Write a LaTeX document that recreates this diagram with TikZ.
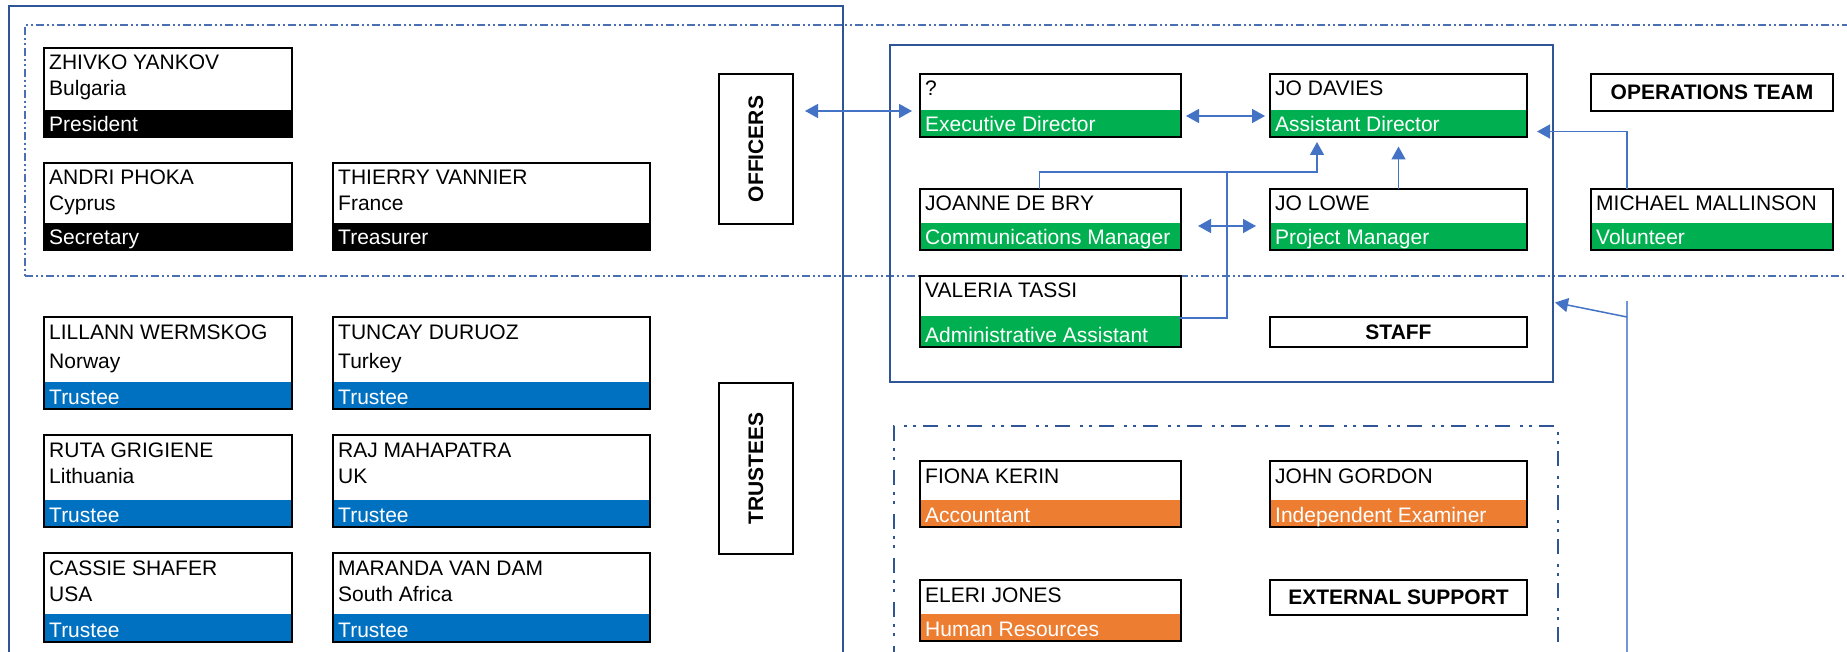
\documentclass[tikz,border=0pt]{standalone}
\usepackage{fontspec}
\setmainfont{Liberation Sans}
\usetikzlibrary{arrows.meta,calc}
\definecolor{bgreen}{HTML}{00B050}
\definecolor{bblue}{HTML}{0070C0}
\definecolor{borange}{HTML}{ED7D31}
\definecolor{frameblue}{HTML}{2F5597}
\definecolor{dashblue}{HTML}{4A6FB3}
\definecolor{linkblue}{HTML}{4472C4}
\definecolor{lightlink}{HTML}{6F96D8}
\tikzset{
  boxshape/.style={rectangle, inner sep=0pt, outer sep=0pt, anchor=north west},
  boxline/.style={draw=black, line width=2pt},
  nametext/.style={anchor=base west, inner sep=0pt, font=\fontsize{21}{25}\selectfont, text=black},
  roletext/.style={anchor=base west, inner sep=0pt, font=\fontsize{21}{25}\selectfont, text=white},
  labeltext/.style={inner sep=0pt, font=\fontsize{21}{25}\selectfont\bfseries},
  labelbox/.style={boxshape, draw=black, line width=2pt, fill=white},
  link/.style={draw=linkblue, line width=1.5pt},
  arr/.style={link, arrows={-Triangle[length=13pt,width=14pt]}},
  darr/.style={link, arrows={Triangle[length=13pt,width=14pt]-Triangle[length=13pt,width=14pt]}},
}
\newcommand\pbox[9]{%
  \node[boxshape, fill=white, minimum width=#4pt, minimum height=#5pt] (#1) at (#2,#3) {};
  \fill[#7] ([yshift=#6pt]#1.south west) rectangle (#1.south east);
  \draw[boxline] (#1.north west) rectangle (#1.south east);
  \node[nametext] (#1-name) at ([xshift=5pt,yshift=-22pt]#1.north west) {#8};
  \node[roletext] (#1-role) at ([xshift=5pt,yshift=5pt]#1.south west) {#9};
}
\begin{document}
\begin{tikzpicture}[x=1pt,y=-1pt]
\path[use as bounding box, clip] (0,0) rectangle (1847,652);
\fill[white] (0,0) rectangle (1847,652);
% frames
\node[boxshape, draw=frameblue, line width=2.5pt, minimum width=834pt, minimum height=680pt] (board) at (9,6) {};
\node[boxshape, draw=dashblue, line width=1.2pt, dash pattern=on 8pt off 3pt on 2pt off 3pt on 2pt off 3pt, minimum width=1900pt, minimum height=251pt] (offband) at (25,25) {};
\node[boxshape, draw=frameblue, line width=2.5pt, minimum width=663pt, minimum height=337pt] (staffframe) at (890,45) {};
\node[boxshape, draw=frameblue, line width=2.2pt, dash pattern=on 15pt off 7pt on 3pt off 6pt on 3pt off 10pt, minimum width=664pt, minimum height=300pt] (extframe) at (894,426) {};
% officers
\pbox{zy}{44}{48}{248}{89}{27}{black}{ZHIVKO YANKOV}{President}
\node[nametext] (zy-c) at ([yshift=-26pt]zy-name.base west) {Bulgaria};
\pbox{ap}{44}{163}{248}{87}{27}{black}{ANDRI PHOKA}{Secretary}
\node[nametext] (ap-c) at ([yshift=-26pt]ap-name.base west) {Cyprus};
\pbox{tv}{333}{163}{317}{87}{27}{black}{THIERRY VANNIER}{Treasurer}
\node[nametext] (tv-c) at ([yshift=-26pt]tv-name.base west) {France};
% trustees
\pbox{lw}{44}{317}{248}{92}{27}{bblue}{LILLANN WERMSKOG}{Trustee}
\node[nametext] (lw-c) at ([yshift=-29pt]lw-name.base west) {Norway};
\pbox{td}{333}{317}{317}{92}{27}{bblue}{TUNCAY DURUOZ}{Trustee}
\node[nametext] (td-c) at ([yshift=-29pt]td-name.base west) {Turkey};
\pbox{rg}{44}{435}{248}{92}{27}{bblue}{RUTA GRIGIENE}{Trustee}
\node[nametext] (rg-c) at ([yshift=-26pt]rg-name.base west) {Lithuania};
\pbox{rm}{333}{435}{317}{92}{27}{bblue}{RAJ MAHAPATRA}{Trustee}
\node[nametext] (rm-c) at ([yshift=-26pt]rm-name.base west) {UK};
\pbox{cs}{44}{553}{248}{89}{28}{bblue}{CASSIE SHAFER}{Trustee}
\node[nametext] (cs-c) at ([yshift=-26pt]cs-name.base west) {USA};
\pbox{mv}{333}{553}{317}{89}{28}{bblue}{MARANDA VAN DAM}{Trustee}
\node[nametext] (mv-c) at ([yshift=-26pt]mv-name.base west) {South Africa};
% label boxes
\node[labelbox, minimum width=74pt, minimum height=150pt] (officers) at (719,74) {};
\node[labeltext, rotate=90] (officers-t) at (officers.center) {OFFICERS};
\node[labelbox, minimum width=74pt, minimum height=171pt] (trustees) at (719,383) {};
\node[labeltext, rotate=90] (trustees-t) at (trustees.center) {TRUSTEES};
\node[labelbox, minimum width=242pt, minimum height=37pt] (opsteam) at (1591,74) {};
\node[labeltext] (opsteam-t) at (opsteam.center) {OPERATIONS TEAM};
\node[labelbox, minimum width=257pt, minimum height=30pt] (staff) at (1270,317) {};
\node[labeltext] (staff-t) at (staff.center) {STAFF};
\node[labelbox, minimum width=257pt, minimum height=35pt] (extsup) at (1270,580) {};
\node[labeltext] (extsup-t) at (extsup.center) {EXTERNAL SUPPORT};
% staff
\pbox{ed}{920}{74}{261}{63}{27}{bgreen}{?}{Executive Director}
\pbox{jd}{1270}{74}{257}{63}{27}{bgreen}{JO DAVIES}{Assistant Director}
\pbox{jb}{920}{189}{261}{61}{27}{bgreen}{JOANNE DE BRY}{Communications Manager}
\pbox{jl}{1270}{189}{257}{61}{27}{bgreen}{JO LOWE}{Project Manager}
\pbox{mm}{1591}{189}{242}{61}{27}{bgreen}{MICHAEL MALLINSON}{Volunteer}
\pbox{vt}{920}{276}{261}{71}{31}{bgreen}{VALERIA TASSI}{Administrative Assistant}
% external
\pbox{fk}{920}{461}{261}{66}{27}{borange}{FIONA KERIN}{Accountant}
\pbox{jg}{1270}{461}{257}{66}{27}{borange}{JOHN GORDON}{Independent Examiner}
\pbox{ej}{920}{580}{261}{61}{27}{borange}{ELERI JONES}{Human Resources}
% connectors
\coordinate (yA) at (0,111);
\coordinate (yB) at (0,116);
\coordinate (yC) at (0,226);
\coordinate (hj) at (1227,172);
\coordinate (vtop) at (1627,301);
\coordinate (vbot) at (1627,660);
\coordinate (vsrc) at (1627,317);
\draw[darr, shorten <=12pt, shorten >=8pt] (officers.east |- yA) -- (ed.west |- yA);
\draw[darr, shorten <=5pt, shorten >=5pt] (ed.east |- yB) -- (jd.west |- yB);
\draw[darr, shorten <=17pt, shorten >=14pt] (jb.east |- yC) -- (jl.west |- yC);
\draw[arr] ([xshift=-11pt]jb.north) -- ++(0,-17) -| ([xshift=-81.5pt,yshift=-5pt]jd.south);
\draw[link] ([yshift=-6.5pt,xshift=-2pt]vt.east) -| (hj);
\draw[arr, shorten >=9.5pt] (jl.north) -- (jd.south);
\draw[arr] ([xshift=-85pt]mm.north) |- ([xshift=10pt,yshift=-26pt]jd.east);
\draw[draw=lightlink, line width=1.3pt] (vtop) -- (vbot);
\draw[arr] (vsrc) -- ([xshift=2pt,yshift=-89pt]staffframe.east);
\end{tikzpicture}
\end{document}
